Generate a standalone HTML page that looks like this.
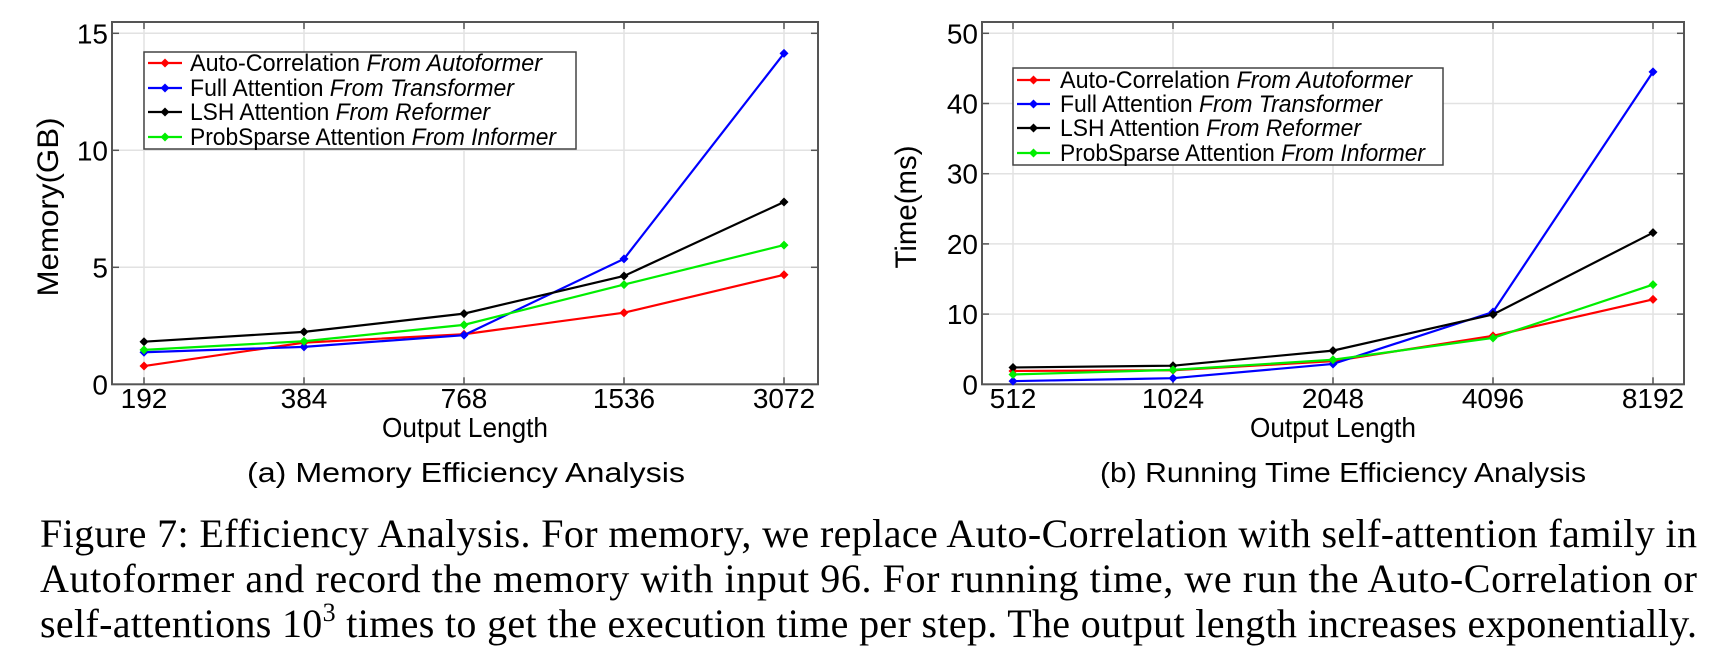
<!DOCTYPE html>
<html><head><meta charset="utf-8"><style>
html,body{margin:0;padding:0;background:#fff;}
svg{display:block;}
.sf{font-family:"Liberation Sans",sans-serif;}
.serif{font-family:"Liberation Serif",serif;}
</style></head><body>
<svg id="fig" width="1722" height="668" viewBox="0 0 1722 668" xmlns="http://www.w3.org/2000/svg">
<g id="chartA"></g>
<g id="chartB"></g>
<text class="sf" x="247" y="482" font-size="28" textLength="438" lengthAdjust="spacingAndGlyphs">(a) Memory Efficiency Analysis</text>
<text class="sf" x="1100" y="482" font-size="28" textLength="486" lengthAdjust="spacingAndGlyphs">(b) Running Time Efficiency Analysis</text>
<g class="serif" font-size="40">
<text x="40" y="547" textLength="1657" lengthAdjust="spacing">Figure 7: Efficiency Analysis. For memory, we replace Auto-Correlation with self-attention family in</text>
<text x="40" y="592" textLength="1657" lengthAdjust="spacing">Autoformer and record the memory with input 96. For running time, we run the Auto-Correlation or</text>
<text x="40" y="637" textLength="1657" lengthAdjust="spacing">self-attentions 10<tspan font-size="26" dy="-16">3</tspan><tspan dy="16"> times to get the execution time per step. The output length increases exponentially.</tspan></text>
</g>
</svg>
<script>
// Memory chart data
const memCategories = ["192","384","768","1536","3072"];
const memAuto = [0.78, 1.78, 2.14, 3.06, 4.68];
const memFull = [1.37, 1.60, 2.10, 5.36, 14.14];
const memLSH = [1.82, 2.24, 3.02, 4.63, 7.79];
const memProb = [1.47, 1.84, 2.54, 4.26, 5.95];
const memTicks = [0, 5, 10, 15];
// Time chart data
const timeCategories = ["512","1024","2048","4096","8192"];
const timeAuto = [1.9, 2.0, 3.3, 6.9, 12.1];
const timeFull = [0.45, 0.87, 2.9, 10.3, 44.5];
const timeLSH = [2.4, 2.65, 4.8, 9.95, 21.6];
const timeProb = [1.4, 2.05, 3.5, 6.6, 14.2];
const timeTicks = [0, 10, 20, 30, 40, 50];
const seriesNames = ["Auto-Correlation", "Full Attention", "LSH Attention", "ProbSparse Attention"];
const seriesFrom = ["From Autoformer", "From Transformer", "From Reformer", "From Informer"];
const seriesColors = ["#ff0000", "#0000ff", "#000000", "#00ee00"];

const NS = "http://www.w3.org/2000/svg";
function mk(tag, attrs, parent) {
  const e = document.createElementNS(NS, tag);
  for (const k in attrs) e.setAttribute(k, attrs[k]);
  parent.appendChild(e);
  return e;
}

function drawChart(g, cfg) {
  const L = cfg.left, R = cfg.right, T = 22, B = 384.3;
  const x = i => cfg.x0 + i * 160;
  const y = v => B - (v - 0) / cfg.ymaxTick * (B - cfg.yTopTick);
  // grid
  cfg.cats.forEach((c, i) => {
    const gl = mk("line", {x1: x(i), x2: x(i), y1: T, y2: B, stroke: "#e2e2e2", "stroke-width": 1.5}, g);
    
    
  });
  cfg.ticks.forEach(t => {
    const gl = mk("line", {x1: L, x2: R, y1: y(t), y2: y(t), stroke: "#e2e2e2", "stroke-width": 1.5}, g);
    
    
  });
  // frame
  const fr = mk("rect", {x: L, y: T, width: R - L, height: B - T, fill: "none", stroke: "#555", "stroke-width": 2}, g);
  
  
  // ticks
  cfg.cats.forEach((c, i) => {
    mk("line", {x1: x(i), x2: x(i), y1: B, y2: B - 7, stroke: "#555", "stroke-width": 1.5}, g);
    mk("line", {x1: x(i), x2: x(i), y1: T, y2: T + 7, stroke: "#555", "stroke-width": 1.5}, g);
    const t = mk("text", {x: x(i), y: 408, "text-anchor": "middle", "font-size": 28, "font-family": "Liberation Sans, sans-serif"}, g);
    t.textContent = c;
    
    
  });
  cfg.ticks.forEach(tv => {
    mk("line", {x1: L, x2: L + 7, y1: y(tv), y2: y(tv), stroke: "#555", "stroke-width": 1.5}, g);
    mk("line", {x1: R, x2: R - 7, y1: y(tv), y2: y(tv), stroke: "#555", "stroke-width": 1.5}, g);
    const t = mk("text", {x: L - 4, y: y(tv) + 10, "text-anchor": "end", "font-size": 28, "font-family": "Liberation Sans, sans-serif"}, g);
    t.textContent = tv;
    
    
  });
  // axis titles
  const xt = mk("text", {x: (L + R) / 2, y: 437, "text-anchor": "middle", "font-size": 28, "font-family": "Liberation Sans, sans-serif", textLength: 166, lengthAdjust: "spacingAndGlyphs"}, g);
  xt.textContent = "Output Length";
  
  
  const yt = mk("text", {x: 0, y: 0, "text-anchor": "middle", "font-size": 30, "font-family": "Liberation Sans, sans-serif", textLength: cfg.ytLen, lengthAdjust: "spacingAndGlyphs", transform: `translate(${cfg.ytX},${cfg.ytY}) rotate(-90)`}, g);
  yt.textContent = cfg.ytitle;
  
  
  // series
  cfg.series.forEach((vals, s) => {
    const pts = vals.map((v, i) => x(i) + "," + y(v)).join(" ");
    const pl = mk("polyline", {points: pts, fill: "none", stroke: seriesColors[s], "stroke-width": 2.2}, g);
    
    
    vals.forEach((v, i) => {
      const cx = x(i), cy = y(v), r = 4.5;
      const m = mk("polygon", {points: `${cx},${cy - r} ${cx + r},${cy} ${cx},${cy + r} ${cx - r},${cy}`, fill: seriesColors[s]}, g);
      
      
    });
  });
  // legend
  const lg = cfg.legend;
  const box = mk("rect", {x: lg.x1, y: lg.y1, width: lg.x2 - lg.x1, height: lg.y2 - lg.y1, fill: "#fff", stroke: "#444", "stroke-width": 1.5}, g);
  
  
  seriesNames.forEach((n, s) => {
    const cy = lg.rows[s];
    mk("line", {x1: lg.lx1, x2: lg.lx2, y1: cy, y2: cy, stroke: seriesColors[s], "stroke-width": 2.2}, g);
    const cx = (lg.lx1 + lg.lx2) / 2, r = 4.5;
    mk("polygon", {points: `${cx},${cy - r} ${cx + r},${cy} ${cx},${cy + r} ${cx - r},${cy}`, fill: seriesColors[s]}, g);
    const t = mk("text", {x: lg.tx, y: cy + 8, "font-size": 24, "font-family": "Liberation Sans, sans-serif", textLength: lg.ends[s] - lg.tx, lengthAdjust: "spacingAndGlyphs"}, g);
    
    
    const a = mk("tspan", {}, t); a.textContent = n + " ";
    const b = mk("tspan", {"font-style": "italic"}, t); b.textContent = seriesFrom[s];
  });
}

drawChart(document.getElementById("chartA"), {
  left: 112, right: 818, x0: 144, cats: memCategories, ticks: memTicks,
  ymaxTick: 15, yTopTick: 33.3,
  series: [memAuto, memFull, memLSH, memProb],
  ytitle: "Memory(GB)", ytX: 58, ytY: 207, ytLen: 179,
  legend: {x1: 144, y1: 52, x2: 576, y2: 149, lx1: 148, lx2: 182, tx: 190, rows: [63, 88, 112, 137], ends: [542, 514, 490, 556]}
});
drawChart(document.getElementById("chartB"), {
  left: 982, right: 1684, x0: 1013, cats: timeCategories, ticks: timeTicks,
  ymaxTick: 50, yTopTick: 33.3,
  series: [timeAuto, timeFull, timeLSH, timeProb],
  ytitle: "Time(ms)", ytX: 916, ytY: 207, ytLen: 123,
  legend: {x1: 1013, y1: 68, x2: 1443, y2: 165, lx1: 1017, lx2: 1050, tx: 1060, rows: [80, 104, 128, 153], ends: [1412, 1382, 1361, 1425]}
});
</script>
</body></html>
